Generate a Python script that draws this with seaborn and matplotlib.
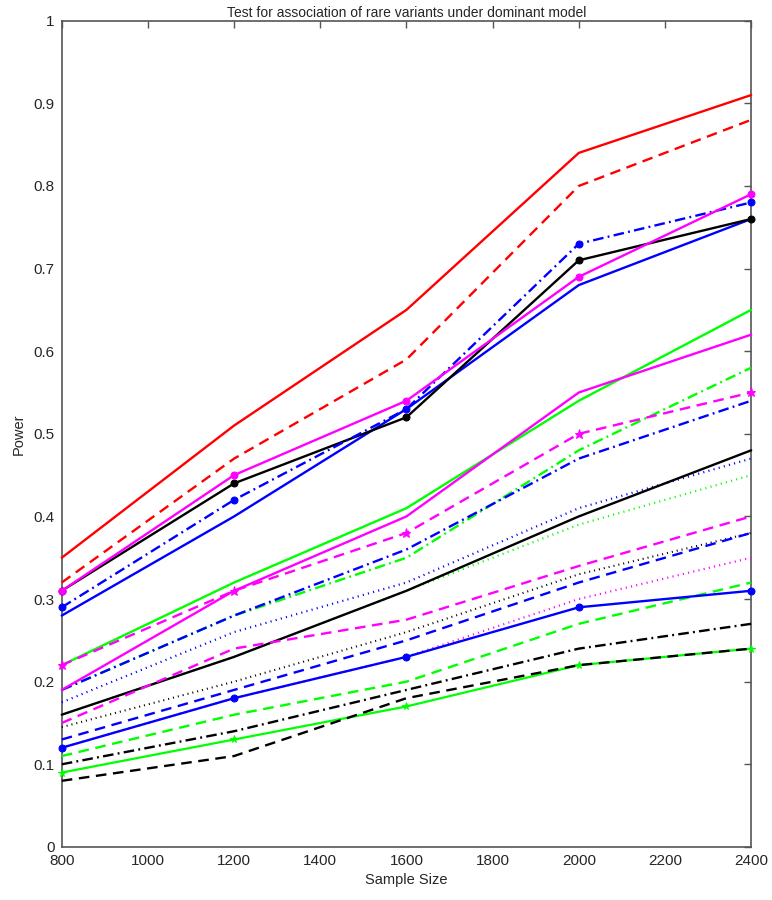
#Power curves for rare-variant association tests (dominant model)

# Load Packages=====================================================================================
import numpy as np
import pandas as pd
import seaborn as sns
import matplotlib
matplotlib.use('Agg')
import matplotlib.pyplot as plt
from matplotlib.ticker import FuncFormatter


# Data==============================================================================================
sample_size = [800, 1200, 1600, 2000, 2400]

red_solid         = [0.35, 0.51, 0.65, 0.84, 0.91]
red_dashed        = [0.32, 0.47, 0.59, 0.80, 0.88]
magenta_solid_mk  = [0.31, 0.45, 0.54, 0.69, 0.79]
blue_dashdot_mk   = [0.29, 0.42, 0.53, 0.73, 0.78]
black_solid_mk    = [0.31, 0.44, 0.52, 0.71, 0.76]
blue_solid        = [0.28, 0.40, 0.53, 0.68, 0.76]
green_solid       = [0.22, 0.32, 0.41, 0.54, 0.65]
magenta_solid     = [0.19, 0.31, 0.40, 0.55, 0.62]
green_dashdot     = [0.19, 0.28, 0.35, 0.48, 0.58]
blue_dashdot      = [0.19, 0.28, 0.36, 0.47, 0.54]
magenta_dashed_mk = [0.22, 0.31, 0.38, 0.50, 0.55]
blue_dotted       = [0.175, 0.26, 0.32, 0.41, 0.47]
green_dotted      = [0.16, 0.23, 0.31, 0.39, 0.45]
black_solid       = [0.16, 0.23, 0.31, 0.40, 0.48]
magenta_dashed    = [0.15, 0.24, 0.275, 0.34, 0.40]
black_dotted      = [0.145, 0.20, 0.26, 0.33, 0.38]
blue_dashed       = [0.13, 0.19, 0.25, 0.32, 0.38]
magenta_dotted    = [0.12, 0.18, 0.23, 0.30, 0.35]
blue_solid_mk     = [0.12, 0.18, 0.23, 0.29, 0.31]
green_dashed      = [0.11, 0.16, 0.20, 0.27, 0.32]
black_dashdot     = [0.10, 0.14, 0.19, 0.24, 0.27]
green_solid_mk    = [0.09, 0.13, 0.17, 0.22, 0.24]
black_dashed      = [0.08, 0.11, 0.18, 0.22, 0.24]


# Styles============================================================================================
RED, MAG, BLU, BLK, GRN = '#ff0000', '#ff00ff', '#0000ff', '#000000', '#00ff00'
SOLID = '-'
DASH = (0, (4.5, 2.8))
DASHDOT = (0, (4.5, 1.8, 0.8, 1.8))
DOT = (0, (0.5, 1.9))

# (values, color, linestyle, marker, markersize, linewidth)
series = [
  (magenta_dotted,    MAG, DOT,     None, 0, 1.6),
  (blue_dotted,       BLU, DOT,     None, 0, 1.6),
  (green_dotted,      GRN, DOT,     None, 0, 1.6),
  (black_dotted,      BLK, DOT,     None, 0, 1.5),
  (green_solid_mk,    GRN, SOLID,   '*',  5.5, 1.6),
  (black_dashed,      BLK, DASH,    None, 0, 1.7),
  (black_dashdot,     BLK, DASHDOT, None, 0, 1.7),
  (green_dashed,      GRN, DASH,    None, 0, 1.7),
  (blue_solid_mk,     BLU, SOLID,   'o',  5, 1.7),
  (blue_dashed,       BLU, DASH,    None, 0, 1.7),
  (black_solid,       BLK, SOLID,   None, 0, 1.7),
  (magenta_dashed,    MAG, DASH,    None, 0, 1.7),
  (green_dashdot,     GRN, DASHDOT, None, 0, 1.7),
  (blue_dashdot,      BLU, DASHDOT, None, 0, 1.7),
  (green_solid,       GRN, SOLID,   None, 0, 1.7),
  (magenta_solid,     MAG, SOLID,   None, 0, 1.7),
  (magenta_dashed_mk, MAG, DASH,    '*',  6.5, 1.7),
  (blue_solid,        BLU, SOLID,   None, 0, 1.7),
  (black_solid_mk,    BLK, SOLID,   'o',  5, 1.7),
  (blue_dashdot_mk,   BLU, DASHDOT, 'o',  5, 1.7),
  (magenta_solid_mk,  MAG, SOLID,   'o',  5, 1.7),
  (red_dashed,        RED, DASH,    None, 0, 1.7),
  (red_solid,         RED, SOLID,   None, 0, 1.7),
]


# Plot==============================================================================================
sns.set_style('white')
plt.rcParams['font.family'] = ['Liberation Sans', 'DejaVu Sans']

fig, ax = plt.subplots(figsize=(7.72, 9), dpi=100)
fig.subplots_adjust(left=0.080, right=0.973, bottom=0.059, top=0.977)

for vals, col, ls, mk, ms, lw in series:
  df = pd.DataFrame({'n': sample_size, 'power': vals})
  sns.lineplot(data=df, x='n', y='power', ax=ax, color=col, linestyle=ls,
               marker=mk, markersize=ms, markeredgecolor=col, markerfacecolor=col,
               linewidth=lw, legend=False, sort=False, clip_on=False, zorder=3)

#axes limits and ticks
ax.set_xlim(800, 2400)
ax.set_ylim(0, 1)
ax.set_xticks(np.arange(800, 2401, 200))
ax.set_yticks(np.arange(0, 1.01, 0.1))
ax.yaxis.set_major_formatter(FuncFormatter(lambda v, p: '%g' % round(v, 2)))

#matlab-ish box with inward ticks on all sides
for sp in ax.spines.values():
  sp.set_visible(True)
  sp.set_color('#555555')
  sp.set_linewidth(1.2)
  sp.set_zorder(2)
ax.tick_params(direction='in', length=5, width=1, color='#555555',
               top=True, right=True, labelsize=11, pad=5)

#add labels
ax.set_xlabel('Sample Size', fontsize=10.5, labelpad=4)
ax.set_ylabel('Power', fontsize=10.5, labelpad=6)
ax.set_title('Test for association of rare variants under dominant model', fontsize=10, pad=3)

fig.savefig('out.png', dpi=100)
plt.close()
